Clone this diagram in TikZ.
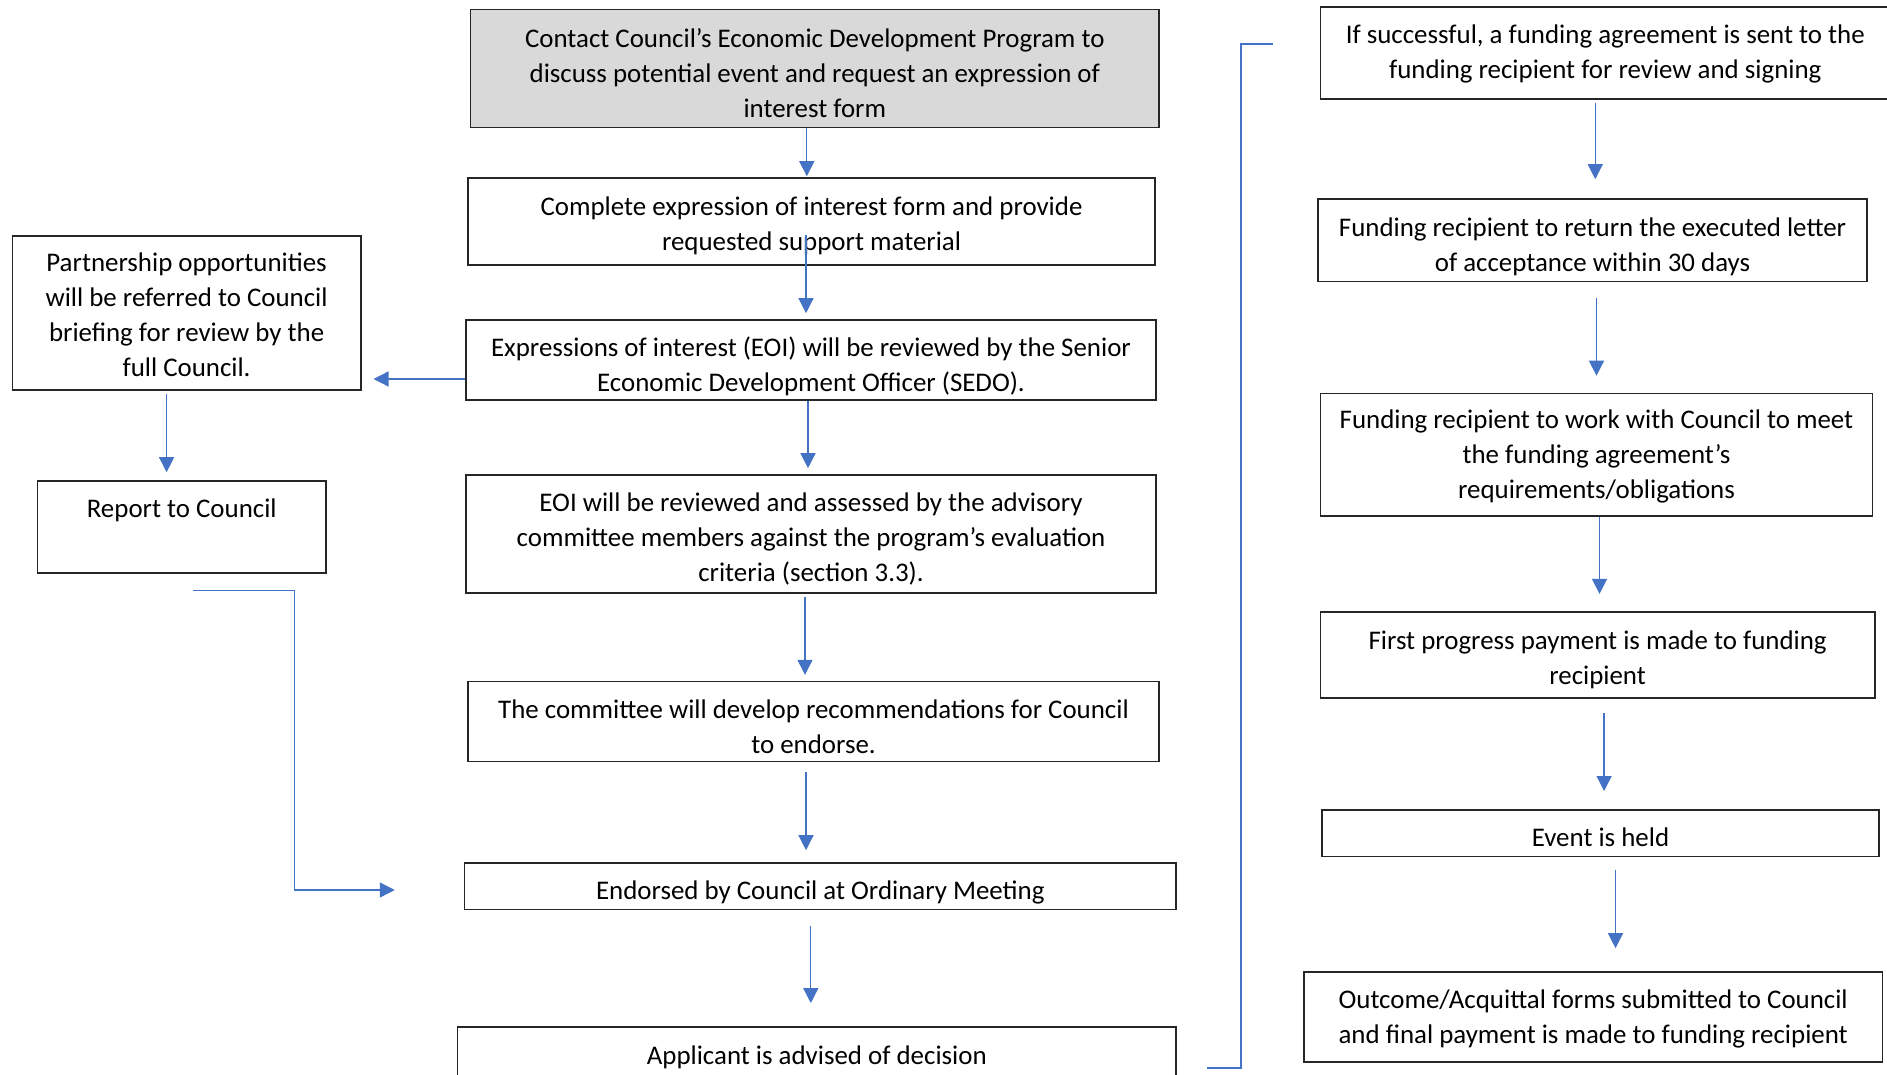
\documentclass[tikz,border=0pt]{standalone}
\usepackage{fontspec}
\setmainfont{Carlito}
\usepackage{tikz}
\usetikzlibrary{arrows.meta,calc}
\definecolor{flowblue}{HTML}{4472C4}
\definecolor{boxgray}{HTML}{D9D9D9}
\newcommand{\tstrut}[1][28pt]{\rule{0pt}{#1}}

\begin{document}
\begin{tikzpicture}[x=1pt,y=-1pt,
    stage/.style={draw=black!85,line width=1.6pt,fill=white,align=center,inner sep=0pt,
      font=\fontsize{26.9}{35}\selectfont},
    flow/.style={draw=flowblue,line width=1.3pt,-{Triangle[width=15pt,length=15pt]}},
    link/.style={draw=flowblue,line width=1.3pt}]
  \useasboundingbox (0,0) rectangle (1887,1075);
  % middle column
  \node[stage,fill=boxgray,minimum width=688.5pt,minimum height=117.8pt](contact)at(814.8,68.5)
    {\tstrut Contact Council’s Economic Development Program to\\discuss potential event and request an expression of\\interest form};
  \node[stage,minimum width=687pt,minimum height=87pt](complete)at(811.5,221.5)
    {\tstrut Complete expression of interest form and provide\\requested support material};
  \node[stage,minimum width=690pt,minimum height=80pt](review)at(811,360)
    {\tstrut[33pt]Expressions of interest (EOI) will be reviewed by the Senior\\Economic Development Officer (SEDO).};
  \node[stage,minimum width=690pt,minimum height=118pt](assess)at(811,534)
    {\tstrut EOI will be reviewed and assessed by the advisory\\committee members against the program’s evaluation\\criteria (section 3.3).};
  \node[stage,minimum width=691pt,minimum height=80pt](recommend)at(813.5,721.6)
    {\tstrut The committee will develop recommendations for Council\\to endorse.};
  \node[stage,minimum width=711.5pt,minimum height=46.6pt](endorse)at(820.3,886.3)
    {\tstrut[32pt]Endorsed by Council at Ordinary Meeting};
  \node[stage,minimum width=718.4pt,minimum height=55pt](advised)at(816.8,1054.4)
    {\tstrut[25pt]Applicant is advised of decision};
  % left column
  \node[stage,minimum width=348.2pt,minimum height=154pt](partner)at(186.6,313)
    {\tstrut[23pt]Partnership opportunities\\will be referred to Council\\briefing for review by the\\full Council.};
  \node[stage,minimum width=288.5pt,minimum height=92pt](report)at(181.75,527)
    {\tstrut[26pt]Report to Council\\ \strut};
  % right column
  \node[stage,minimum width=569.5pt,minimum height=92.3pt](success)at(1605.25,53.15)
    {\tstrut[21pt]If successful, a funding agreement is sent to the\\funding recipient for review and signing};
  \node[stage,minimum width=549pt,minimum height=82.4pt](letter)at(1592.5,240.2)
    {\tstrut[31pt]Funding recipient to return the executed letter\\of acceptance within 30 days};
  \node[stage,minimum width=552pt,minimum height=122.5pt](obligations)at(1596.5,454.75)
    {\tstrut[23pt]Funding recipient to work with Council to meet\\the funding agreement’s\\requirements/obligations};
  \node[stage,minimum width=554.2pt,minimum height=86.3pt](payment)at(1597.6,654.85)
    {\tstrut First progress payment is made to funding\\recipient};
  \node[stage,minimum width=557pt,minimum height=46.6pt](held)at(1600.5,833.3)
    {\tstrut[26pt]Event is held};
  \node[stage,minimum width=578.8pt,minimum height=90pt](outcome)at(1593.2,1016.8)
    {\tstrut[23pt]Outcome/Acquittal forms submitted to Council\\and final payment is made to funding recipient};

  % arrows down the middle
  \draw[flow,shorten >=1pt]([xshift=-8pt]contact.south)--([xshift=-8pt]contact.south|-complete.north);
  \draw[flow,shorten <=-31pt,shorten >=6pt]([xshift=-5.5pt]complete.south)--([xshift=-5.5pt]complete.south|-review.north);
  \draw[flow,shorten >=6pt]([xshift=-3pt]review.south)--([xshift=-3pt]review.south|-assess.north);
  \draw[flow,shorten <=3pt,shorten >=6pt]([xshift=-6pt]assess.south)--([xshift=-6pt]assess.south|-recommend.north);
  \draw[flow,shorten <=10pt,shorten >=12pt]([xshift=-7.5pt]recommend.south)--([xshift=-7.5pt]recommend.south|-endorse.north);
  \draw[flow,shorten <=15.4pt,shorten >=23pt]([xshift=-9.5pt]endorse.south)--([xshift=-9.5pt]endorse.south|-advised.north);
  % side branch
  \draw[flow,shorten >=12pt]([yshift=-19pt]review.west)--([yshift=-19pt]review.west-|partner.east);
  \draw[flow,shorten <=3pt,shorten >=8pt]([xshift=-20pt]partner.south)--([xshift=-20pt]partner.south|-report.north);
  \draw[flow]([xshift=11pt,yshift=-16.5pt]report.south)--++(101.6,0)|-([xshift=-69pt,yshift=-3.7pt]endorse.west);
  % over to the right column
  \draw[link]([xshift=30.6pt,yshift=-13.6pt]advised.east)--++(33.7,0)|-([xshift=-46.9pt,yshift=9.25pt]success.west);
  % arrows down the right
  \draw[flow,shorten <=2.5pt,shorten >=19pt]([xshift=-10pt]success.south)--([xshift=-10pt]success.south|-letter.north);
  \draw[flow,shorten <=16pt,shorten >=17pt]([xshift=4pt]letter.south)--([xshift=4pt]letter.south|-obligations.north);
  \draw[flow,shorten >=17pt]([xshift=3pt]obligations.south)--([xshift=3pt]obligations.south|-payment.north);
  \draw[flow,shorten <=14.3pt,shorten >=18.2pt]([xshift=6.5pt]payment.south)--([xshift=6.5pt]payment.south|-held.north);
  \draw[flow,shorten <=12.4pt,shorten >=22.8pt]([xshift=15pt]held.south)--([xshift=15pt]held.south|-outcome.north);
\end{tikzpicture}
\end{document}
